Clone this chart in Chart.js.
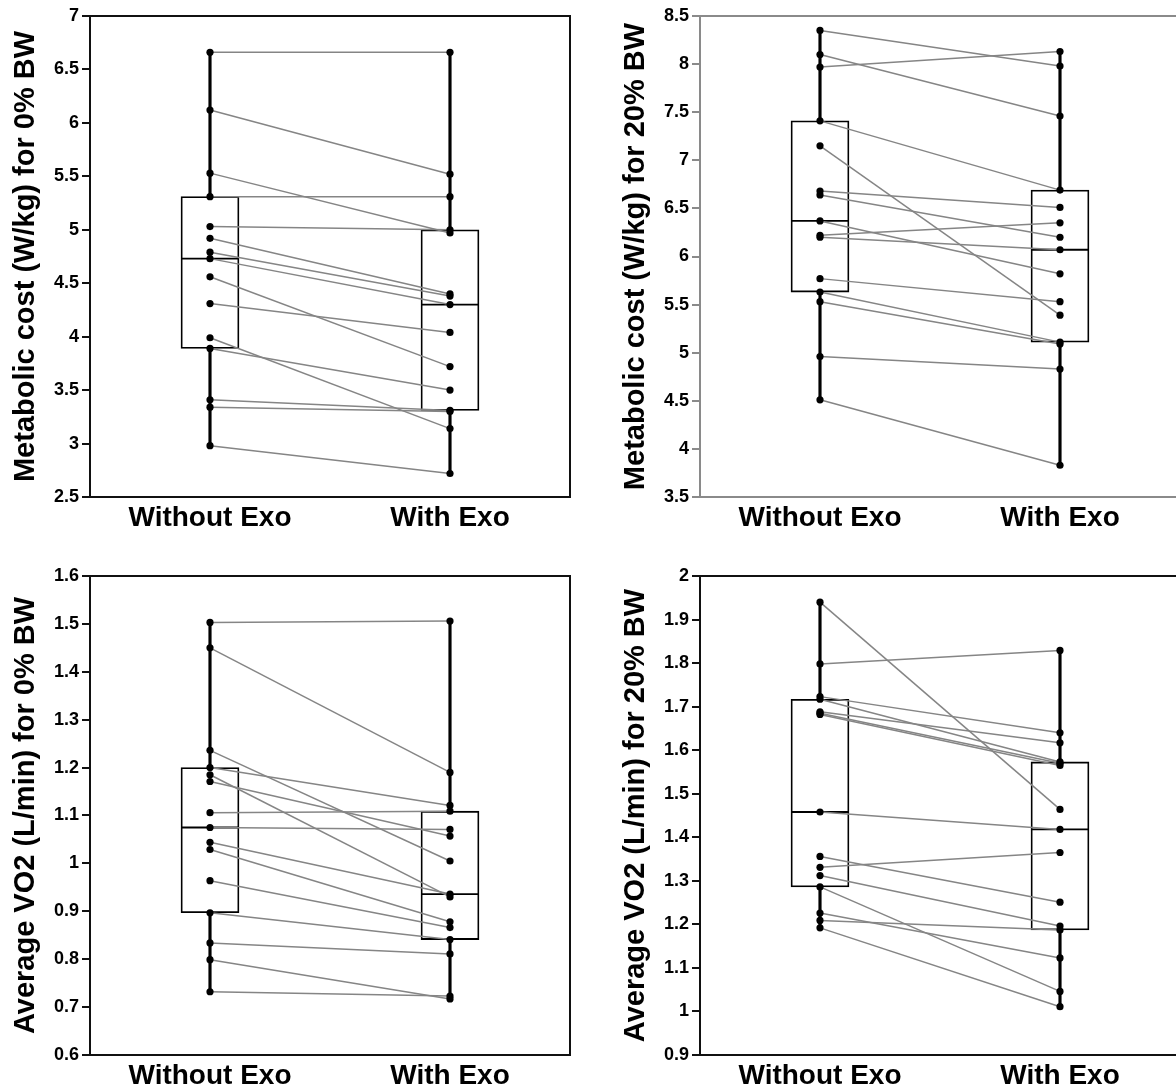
<!DOCTYPE html>
<html>
<head>
<meta charset="utf-8">
<script src="https://cdn.jsdelivr.net/npm/chart.js@4.4.1/dist/chart.umd.min.js"></script>
<style>
  html, body { margin: 0; padding: 0; background: #fff; width: 1176px; height: 1091px; overflow: hidden; position: relative; }
  canvas { position: absolute; }
</style>
</head>
<body>
<canvas id="metab0" width="580" height="545" style="left:0;top:0"></canvas>
<canvas id="metab20" width="580" height="545" style="left:610px;top:0"></canvas>
<canvas id="vo20" width="580" height="531" style="left:0;top:560px"></canvas>
<canvas id="vo220" width="580" height="531" style="left:610px;top:560px"></canvas>
<script>
const groups = ["Without Exo", "With Exo"];

// one value per participant, same order in both arrays (lines pair them)
const metab0Without = [6.66, 6.12, 5.53, 5.31, 5.03, 4.92, 4.79, 4.73, 4.56, 4.31, 3.99, 3.89, 3.41, 3.34, 2.98];
const metab0With    = [6.66, 5.52, 4.97, 5.31, 5.00, 4.40, 4.38, 4.30, 3.72, 4.04, 3.14, 3.50, 3.31, 3.30, 2.72];

const metab20Without = [8.35, 8.10, 7.97, 7.41, 7.15, 6.68, 6.64, 6.37, 6.22, 6.20, 5.77, 5.63, 5.53, 4.96, 4.51];
const metab20With    = [7.98, 7.46, 8.13, 6.69, 5.39, 6.51, 6.20, 5.82, 6.35, 6.07, 5.53, 5.11, 5.09, 4.83, 3.83];

const vo2_0Without = [1.503, 1.450, 1.236, 1.200, 1.185, 1.171, 1.106, 1.075, 1.044, 1.029, 0.964, 0.897, 0.834, 0.799, 0.732];
const vo2_0With    = [1.506, 1.190, 1.005, 1.121, 0.930, 1.057, 1.109, 1.071, 0.936, 0.878, 0.866, 0.841, 0.811, 0.717, 0.723];

const vo2_20Without = [1.940, 1.798, 1.723, 1.717, 1.688, 1.685, 1.682, 1.458, 1.356, 1.331, 1.312, 1.286, 1.226, 1.209, 1.192];
const vo2_20With    = [1.464, 1.829, 1.640, 1.573, 1.617, 1.570, 1.565, 1.418, 1.251, 1.365, 1.196, 1.046, 1.123, 1.187, 1.011];

const metabTicks0  = [2.5, 3, 3.5, 4, 4.5, 5, 5.5, 6, 6.5, 7];
const metabTicks20 = [3.5, 4, 4.5, 5, 5.5, 6, 6.5, 7, 7.5, 8, 8.5];
const vo2Ticks0    = [0.6, 0.7, 0.8, 0.9, 1, 1.1, 1.2, 1.3, 1.4, 1.5, 1.6];
const vo2Ticks20   = [0.9, 1, 1.1, 1.2, 1.3, 1.4, 1.5, 1.6, 1.7, 1.8, 1.9, 2];

Chart.defaults.font.family = "'Liberation Sans', Arial, sans-serif";

// quartiles at (n+1)p positions
function quantile(sorted, p) {
  const pos = (sorted.length + 1) * p - 1;
  const lo = Math.max(0, Math.floor(pos)), hi = Math.min(sorted.length - 1, Math.ceil(pos));
  return sorted[lo] + (sorted[hi] - sorted[lo]) * (pos - lo);
}
function boxStats(values) {
  const s = [...values].sort((a, b) => a - b);
  return { min: s[0], q1: quantile(s, 0.25), med: quantile(s, 0.5), q3: quantile(s, 0.75), max: s[s.length - 1] };
}

const framePlugin = {
  id: "frame",
  beforeDatasetsDraw(chart, args, opts) {
    const { ctx, chartArea: a } = chart;
    ctx.save();
    ctx.strokeStyle = opts.color;
    ctx.lineWidth = 2;
    ctx.strokeRect(a.left, a.top, a.right - a.left, a.bottom - a.top);
    ctx.restore();
  },
};

function makePanel(id, title, without, withExo, ticks, frameColor, xAxisH) {
  const a = boxStats(without), b = boxStats(withExo);
  const datasets = [
    // whiskers min..max
    { type: "bar", data: [[a.min, a.max], [b.min, b.max]], backgroundColor: "#000", barThickness: 2.5, grouped: false, order: 5 },
    // boxes q1..q3
    { type: "bar", data: [[a.q1, a.q3], [b.q1, b.q3]], backgroundColor: "#fff", borderColor: "#000", borderWidth: 1.8,
      borderSkipped: false, barThickness: 58, grouped: false, order: 4 },
    // medians
    { type: "line", data: [a.med, b.med], showLine: false, pointStyle: "line", pointRadius: 29,
      pointBorderWidth: 1.8, pointBorderColor: "#000", order: 3 },
  ];
  without.forEach((v, i) => {
    datasets.push({ type: "line", data: [v, withExo[i]], borderColor: "#858585", borderWidth: 1.5, pointRadius: 0, order: 2 });
  });
  datasets.push({
    type: "line",
    data: without.map(v => ({ x: groups[0], y: v })).concat(withExo.map(v => ({ x: groups[1], y: v }))),
    showLine: false, pointRadius: 3.6, pointBackgroundColor: "#000", pointBorderWidth: 0, order: 1,
  });

  new Chart(document.getElementById(id), {
    data: { labels: groups, datasets },
    options: {
      responsive: false,
      animation: false,
      events: [],
      layout: { autoPadding: false, padding: { top: 16, right: 10, left: 0, bottom: 0 } },
      plugins: { legend: { display: false }, tooltip: { enabled: false }, frame: { color: frameColor } },
      scales: {
        x: {
          type: "category", offset: true,
          grid: { display: false, drawTicks: false },
          border: { display: false },
          ticks: { color: "#000", padding: 4, font: { size: 28, weight: "bold" } },
          afterFit: s => { s.height = xAxisH; },
        },
        y: {
          min: ticks[0], max: ticks[ticks.length - 1],
          afterBuildTicks: s => { s.ticks = ticks.map(v => ({ value: v })); },
          grid: { drawOnChartArea: false, drawTicks: true, tickLength: 8, color: frameColor, lineWidth: 2 },
          border: { display: false },
          ticks: { color: "#000", padding: 3, font: { size: 18, weight: "bold" }, callback: v => String(v) },
          title: { display: true, text: title, color: "#000", font: { size: 29, weight: "bold" }, padding: { top: 9, bottom: 0 } },
          afterFit: s => { s.width = 90; s.paddingTop = 0; s.paddingBottom = 0; },
        },
      },
    },
    plugins: [framePlugin],
  });
}

makePanel("metab0", "Metabolic cost (W/kg) for 0% BW", metab0Without, metab0With, metabTicks0, "#111", 48);
makePanel("metab20", "Metabolic cost (W/kg) for 20% BW", metab20Without, metab20With, metabTicks20, "#8a8a8a", 48);
makePanel("vo20", "Average VO2 (L/min) for 0% BW", vo2_0Without, vo2_0With, vo2Ticks0, "#111", 36);
makePanel("vo220", "Average VO2 (L/min) for 20% BW", vo2_20Without, vo2_20With, vo2Ticks20, "#111", 36);
</script>
</body>
</html>
